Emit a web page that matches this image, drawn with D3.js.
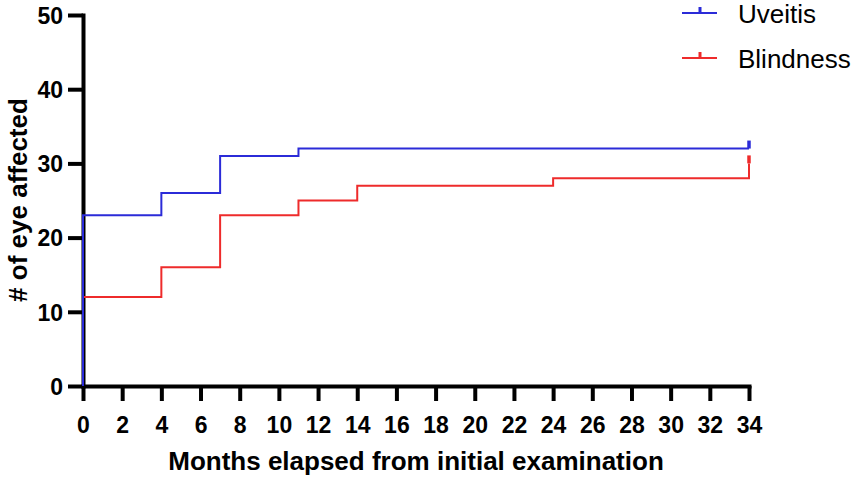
<!DOCTYPE html>
<html>
<head>
<meta charset="utf-8">
<script src="https://cdn.jsdelivr.net/npm/d3@7"></script>
<style>
  body { margin: 0; background: #fff; }
  text { font-family: "Liberation Sans", Arial, sans-serif; }
</style>
</head>
<body>
<div id="chart"></div>
<script>
// step data
var uveitisMonths = [0, 0, 4, 7, 11, 34];
var uveitisEyes   = [0, 23, 26, 31, 32, 32];
var blindMonths   = [0, 0, 4, 7, 11, 14, 24, 34];
var blindEyes     = [0, 12, 16, 23, 25, 27, 28, 30];
var seriesNames   = ["Uveitis", "Blindness"];
var seriesColors  = ["#2b2bd8", "#ee2b2b"];
var xTicks = d3.range(0, 35, 2);
var yTicks = [0, 10, 20, 30, 40, 50];

var width = 851, height = 477;

var svg = d3.select("#chart")
    .append("svg")
    .attr("width", width)
    .attr("height", height);

var x = d3.scaleLinear().domain([0, 34]).range([83, 749]);
var y = d3.scaleLinear().domain([0, 50]).range([386, 15]);

var series = [
    { name: seriesNames[0], color: seriesColors[0],
      pts: uveitisMonths.map(function(m, i) { return [m, uveitisEyes[i]]; }) },
    { name: seriesNames[1], color: seriesColors[1],
      pts: blindMonths.map(function(m, i) { return [m, blindEyes[i]]; }) }
];

var line = d3.line()
    .x(function(d) { return x(d[0]); })
    .y(function(d) { return y(d[1]); })
    .curve(d3.curveStepAfter);

// x axis
var xAxis = svg.append("g")
    .attr("transform", "translate(0," + y(0) + ")")
    .call(d3.axisBottom(x).tickValues(xTicks).tickSize(15).tickSizeOuter(0).tickPadding(16));
// y axis
var yAxis = svg.append("g")
    .attr("transform", "translate(" + x(0) + ",0)")
    .call(d3.axisLeft(y).tickValues(yTicks).tickSize(15).tickSizeOuter(0).tickPadding(5));

[xAxis, yAxis].forEach(function(a) {
    a.select(".domain").attr("stroke", "#000").attr("stroke-width", 4).attr("stroke-linecap", "square");
    a.selectAll(".tick line").attr("stroke", "#000").attr("stroke-width", 4);
    a.selectAll(".tick text")
        .attr("fill", "#000")
        .attr("font-size", "23px")
        .attr("font-weight", "bold")
        .style("font-family", "'Liberation Sans', Arial, sans-serif");
});
yAxis.selectAll(".tick text").attr("dy", "0.36em");

// series lines, red first so blue sits on top
series.slice().reverse().forEach(function(s) {
    svg.append("path")
        .datum(s.pts)
        .attr("fill", "none")
        .attr("stroke", s.color)
        .attr("stroke-width", 2)
        .attr("d", line);
    // censor tick at the end
    var last = s.pts[s.pts.length - 1];
    svg.append("line")
        .attr("x1", x(last[0])).attr("x2", x(last[0]))
        .attr("y1", y(last[1])).attr("y2", y(last[1]) - 8)
        .attr("stroke", s.color)
        .attr("stroke-width", 3.5);
});

// axis titles
svg.append("text")
    .attr("x", 416)
    .attr("y", 470)
    .attr("text-anchor", "middle")
    .attr("font-size", "26px")
    .attr("font-weight", "bold")
    .text("Months elapsed from initial examination");

svg.append("text")
    .attr("transform", "translate(27,200) rotate(-90)")
    .attr("text-anchor", "middle")
    .attr("font-size", "26px")
    .attr("font-weight", "bold")
    .text("# of eye affected");

// legend
var legend = svg.selectAll(".legend")
    .data(series)
    .enter().append("g")
    .attr("class", "legend")
    .attr("transform", function(d, i) { return "translate(682," + (13 + i * 45) + ")"; });

legend.append("line")
    .attr("x1", 0).attr("x2", 35)
    .attr("stroke", function(d) { return d.color; })
    .attr("stroke-width", 2);
legend.append("line")
    .attr("x1", 18).attr("x2", 18)
    .attr("y1", 0).attr("y2", -6)
    .attr("stroke", function(d) { return d.color; })
    .attr("stroke-width", 3);
legend.append("text")
    .attr("x", 56)
    .attr("y", 10)
    .attr("font-size", "26px")
    .attr("fill", "#000")
    .text(function(d) { return d.name; });
</script>
</body>
</html>
